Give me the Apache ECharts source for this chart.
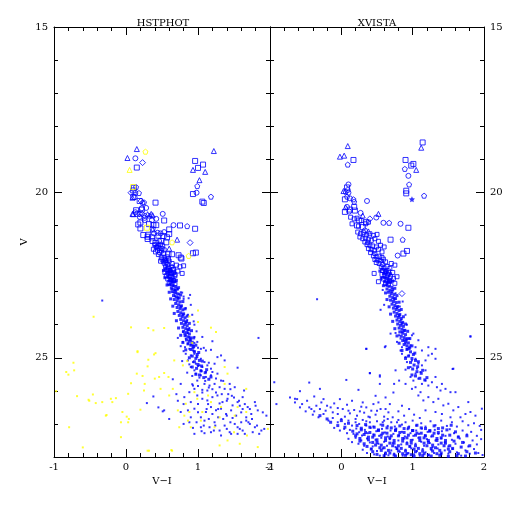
<!DOCTYPE html>
<html><head><meta charset="utf-8">
<script src="https://cdn.jsdelivr.net/npm/echarts@6/dist/echarts.min.js"></script>
<style>html,body{margin:0;padding:0;background:#fff}#c{width:512px;height:512px}</style>
</head><body><div id="c"></div>
<script>
// ---------- axis settings (data units) ----------
const X_RANGE = [-1, 2];
const Y_RANGE = [15, 28];
const PANEL_TITLES = ['HSTPHOT', 'XVISTA'];
const X_NAME = 'V\u2212I';
const Y_NAME = 'V';

// ---------- LEFT panel (HSTPHOT): [V-I, V] ----------
const L_TRI = [[0.15,18.69],[0.02,18.96],[1.22,18.75],[0.93,19.32],[1.10,19.38],[1.02,19.63],[0.09,20.16],[0.09,20.65],[0.35,20.65],[0.37,20.69],[0.10,20.66],[0.30,20.66],[0.33,20.70],[0.37,21.12],[0.71,21.43],[0.60,21.70],[0.43,21.62],[0.55,22.05]];
const L_CIRC = [[0.13,18.97],[0.98,20.01],[0.13,20.02],[0.12,20.15],[0.28,20.47],[0.22,20.48],[0.51,20.65],[0.19,20.74],[0.42,20.80],[0.36,20.84],[0.26,20.84],[0.66,20.99],[0.37,21.10],[0.39,21.24],[0.44,21.22],[0.48,21.24],[0.53,21.20],[0.13,20.60],[0.26,20.77],[0.46,21.47]];
const L_SQ = [[0.15,19.25],[0.96,19.05],[1.07,19.16],[1.00,19.26],[0.93,20.05],[1.06,20.28],[1.08,20.32],[0.11,19.86],[0.10,19.94],[0.10,20.14],[0.41,20.31],[0.22,20.52],[0.14,20.54],[0.16,20.65],[0.53,20.85],[0.20,20.91],[0.17,20.97],[0.20,21.09],[0.75,21.00],[0.96,21.10],[0.24,21.29],[0.30,21.34],[0.30,21.41],[0.31,21.28],[0.36,21.36],[0.45,21.31],[0.52,21.32],[0.57,21.36],[0.60,21.26],[0.37,21.47],[0.41,21.53],[0.49,21.47],[0.56,21.51],[0.59,21.87],[0.64,21.87],[0.73,21.90],[0.76,21.97],[0.93,21.84],[0.97,21.82],[0.77,22.00],[0.32,20.96],[0.38,20.99],[0.42,20.99],[0.60,21.12],[0.19,20.26]];
const L_PENT = [[0.99,19.81],[1.18,20.13],[0.14,19.84],[0.18,20.02],[0.23,20.31],[0.25,20.30],[0.85,21.02]];
const L_DIAM = [[0.23,19.10],[0.07,20.01],[0.21,20.26],[0.19,20.65],[0.22,20.65],[0.26,20.71],[0.89,21.52]];
const L_YEL_PENT = [[0.27,18.77],[0.64,21.51],[0.87,21.92]];
const L_YEL_TRI = [[0.05,19.32]];
const L_YEL_SQ = [[0.10,19.84],[0.29,21.07]];
const L_MID = [[0.40,21.58],[0.44,21.60],[0.48,21.57],[0.51,21.62],[0.42,21.66],[0.46,21.68],[0.50,21.70],[0.38,21.72],[0.44,21.75],[0.49,21.77],[0.53,21.74],[0.41,21.80],[0.47,21.82],[0.52,21.84],[0.45,21.88],
 [0.49,21.96],[0.53,21.98],[0.57,21.95],[0.50,22.02],[0.55,22.04],[0.59,22.01],[0.48,22.08],[0.52,22.10],[0.56,22.12],[0.60,22.08],[0.54,22.16],[0.58,22.18],
 [0.64,22.15],[0.70,22.20],[0.75,22.25],[0.80,22.22],[0.66,22.32],[0.72,22.38],[0.78,22.45],[0.68,22.48],
 [0.55,22.26],[0.59,22.28],[0.63,22.25],[0.57,22.34],[0.61,22.36],[0.65,22.33],[0.54,22.42],[0.58,22.44],[0.62,22.46],[0.66,22.42],[0.56,22.52],[0.60,22.54],[0.64,22.56],[0.68,22.52],[0.58,22.62],[0.62,22.64],[0.66,22.66],[0.60,22.72],[0.64,22.74],[0.68,22.76]];
const L_RIDGE = [[0.55,22.30],[0.60,22.33],[0.63,22.38],[0.57,22.42],[0.61,22.47],[0.65,22.50],[0.58,22.55],[0.62,22.60],[0.66,22.63],[0.60,22.68],[0.64,22.72],[0.68,22.70],[0.61,22.78],[0.65,22.82],[0.69,22.85],[0.63,22.90],[0.67,22.94],[0.71,22.92],[0.64,23.00],[0.68,23.04],[0.72,23.07],[0.66,23.12],[0.70,23.16],[0.74,23.19],[0.67,23.24],[0.71,23.28],[0.75,23.31],[0.69,23.36],[0.73,23.40],[0.77,23.43],[0.71,23.48],[0.75,23.52],[0.79,23.55],[0.72,23.60],[0.76,23.64],[0.80,23.67],[0.74,23.72],[0.78,23.76],[0.82,23.79],[0.76,23.84],[0.80,23.88],[0.84,23.91],[0.77,23.96],[0.81,24.00],[0.85,24.03],[0.79,24.08],[0.83,24.12],[0.87,24.15],[0.80,24.20],[0.84,24.24],[0.88,24.28],[0.82,24.33],[0.86,24.37],[0.90,24.40],[0.84,24.46],[0.88,24.50],[0.92,24.53],[0.86,24.58],[0.90,24.62],[0.94,24.66],
 [0.90,24.75],[0.95,24.82],[0.99,24.90],[0.92,24.95],[0.97,25.02],[1.02,25.08],[0.95,25.12],[1.00,25.20],[1.05,25.25],[0.98,25.32],[1.04,25.40],[1.10,25.45],[1.02,25.52],[1.08,25.60],[1.15,25.65],
 [0.52,22.36],[0.67,22.44],[0.54,22.58],[0.70,22.66],[0.57,22.80],[0.73,22.88],[0.60,23.02],[0.76,23.10],[0.62,23.22],[0.79,23.30],[0.65,23.44],[0.82,23.52],[0.67,23.66],[0.85,23.74],[0.70,23.88],[0.88,23.96],[0.73,24.10],[0.91,24.18],[0.76,24.32],[0.94,24.40],[0.79,24.54],[0.97,24.62],[0.83,24.76],[1.01,24.84],[0.88,25.00],[1.06,25.10],[0.92,25.28],[1.12,25.36],[0.97,25.50],[1.18,25.58],[0.60,22.40],[0.64,22.66],[0.69,22.98],[0.72,23.20],[0.76,23.46],[0.79,23.70],[0.83,23.94],[0.86,24.16],[0.89,24.44],[0.93,24.70]];
const L_DOTS = [[0.62,22.82],[0.66,22.84],[0.59,22.80],[0.64,22.92],[0.68,22.95],[0.72,22.93],[0.66,23.02],[0.70,23.05],[0.74,23.08],[0.78,23.03],[0.68,23.14],[0.72,23.18],[0.80,23.15],
 [0.76,23.02],[0.80,23.22],[0.83,23.50],[0.86,23.70],[0.85,23.86],[0.88,24.10],[0.90,23.40],[0.92,23.70],[0.95,24.00],[0.87,23.20],[0.89,23.10],[0.94,23.90],
 [0.79,24.22],[0.81,24.27],[0.83,24.32],[0.86,24.25],[0.88,24.37],[0.83,24.42],[0.90,24.47],[0.79,24.52],[0.86,24.57],[0.93,24.62],[0.95,24.37],[1.06,24.37],[0.99,24.52],[1.04,24.73],[0.82,24.68],[0.88,24.73],[0.93,24.78],[0.95,24.80],[1.11,24.78],[1.18,24.76],[0.76,24.65],[0.80,24.80],
 [0.83,24.88],[0.90,24.93],[0.95,24.88],[0.99,24.98],[1.04,25.03],[0.86,25.08],[0.93,25.13],[1.09,25.13],[0.97,25.18],[1.02,25.23],[1.06,25.28],[1.13,25.23],[1.18,25.33],[0.90,25.28],[1.23,25.18],[1.27,24.98],[1.32,24.93],[1.37,25.08],[1.20,25.43],[1.11,25.43],[1.04,25.38],[0.95,25.38],[1.55,25.30],
 [0.97,25.48],[1.04,25.53],[1.11,25.58],[1.18,25.53],[1.25,25.63],[1.32,25.69],[0.99,25.69],[1.09,25.79],[1.16,25.84],[1.23,25.79],[1.30,25.89],[1.37,25.94],[1.44,25.79],[1.51,25.89],[1.13,25.99],[0.95,25.94],[1.06,25.97],[1.27,25.48],[0.76,25.79],[0.65,25.65],[0.93,25.84],[0.88,26.04],[1.64,25.99],
 [0.81,26.19],[0.90,26.34],[0.99,26.14],[1.06,26.24],[1.13,26.29],[1.20,26.19],[1.27,26.14],[1.34,26.34],[1.41,26.24],[1.48,26.44],[1.55,26.34],[1.62,26.19],[1.69,26.49],[1.79,26.34],[1.18,26.49],[1.25,26.59],[1.32,26.54],[1.39,26.70],[1.46,26.59],[1.53,26.75],[1.60,26.65],[1.67,26.80],[1.74,26.70],[1.83,26.59],[1.11,26.64],[1.04,26.80],[0.95,26.54],[0.86,26.59],[0.76,26.64],[0.51,26.62],[0.29,26.37],[0.53,26.59],[0.38,26.17],[1.95,26.75],
 [1.09,26.90],[1.16,27.10],[1.23,26.95],[1.30,27.20],[1.37,27.05],[1.44,27.25],[1.51,27.00],[1.58,27.15],[1.65,27.30],[1.72,27.00],[1.79,27.10],[1.18,27.25],[1.32,27.35],[1.46,27.30],[1.55,27.30],[1.09,27.28],[1.04,27.10],[0.93,27.12],[1.67,26.90],[1.88,27.20],
 [0.72,26.30],[0.60,26.85],[0.80,27.00],[1.00,26.40],[1.20,26.70],[1.35,26.85],[1.45,26.95],[1.55,27.10],[1.62,26.55],[1.70,26.95],[1.76,27.25],[1.85,27.30],[1.24,27.05],[1.08,27.05],[0.98,26.95],[1.14,26.40],[1.30,26.38],[1.42,26.10],[1.50,26.20],[1.58,26.45],[1.20,25.95],[1.10,25.70],[1.02,25.60],[0.92,25.55],[0.88,25.20],[0.98,24.95],[1.08,24.70],[1.00,24.70],[0.90,24.60],[0.45,26.50],[1.84,24.40],[-0.33,23.27],
 [0.85,25.45],[0.92,25.80],[1.00,25.85],[1.06,26.05],[1.15,25.90],[1.25,26.05],[1.33,26.10],[1.40,26.30],[1.47,26.15],[1.57,26.30],[1.65,26.40],[1.72,26.55],[1.80,26.45],[1.90,26.65],[1.28,26.55],[1.12,26.55],[1.00,26.65],[0.90,26.80],[1.15,26.85],[1.28,26.80],[1.40,26.75],[1.48,26.82],[1.60,26.95],[1.75,26.85],[1.82,27.05],[1.92,27.15],[1.62,27.20],[1.40,27.15],[1.22,27.20],[1.05,27.22],[0.95,27.30],[0.88,26.95],[0.80,26.40],[0.70,26.10],[1.35,25.70],[1.45,25.95],[1.05,25.40],[1.15,25.15],[1.00,25.25],[0.78,25.10],[0.95,24.55],[0.72,24.40],[0.98,24.20],[1.20,24.50]];
const L_YELLOW = [[-0.73,25.15],[-0.83,25.43],[-0.72,25.38],[-0.97,26.01],[-0.79,27.10],[-0.52,26.27],[-0.42,26.37],[-0.28,26.75],[-0.33,26.34],[-0.21,26.24],[-0.19,26.34],[-0.14,26.22],[-0.07,26.95],[-0.05,26.64],[0.04,26.85],[0.03,26.09],[0.07,25.77],[0.15,25.48],[0.16,24.83],[0.20,26.57],[0.23,25.55],[0.25,25.99],[0.26,25.79],[0.30,25.26],[0.31,25.06],[0.39,24.90],[0.41,24.86],[0.40,25.63],[0.46,25.58],[0.48,25.94],[0.53,25.46],[0.59,25.58],[0.60,26.14],[0.65,25.94],[0.67,25.08],[0.72,26.59],[0.74,27.10],[0.79,25.23],[0.81,26.75],[0.83,26.39],[0.86,26.90],[0.88,26.64],[0.90,27.10],[0.95,26.04],[0.99,26.24],[1.04,26.90],[1.06,26.64],[1.14,26.14],[1.18,26.34],[1.23,27.10],[1.30,26.80],[1.32,26.49],[1.37,25.28],[1.41,27.50],[1.51,26.75],[1.55,26.49],[1.67,26.64],[1.58,27.60],[1.83,27.70],[1.97,27.15],[-0.07,27.40],[-0.60,27.71],[0.32,27.81],[0.63,27.79],[1.25,24.22],[1.37,25.79],[1.41,25.48],[1.67,25.94],
 [-0.45,23.76],[0.07,24.08],[0.38,24.17],[0.16,24.80],[1.00,23.57],[1.00,23.92],[1.18,24.09],[0.31,24.10],[0.53,24.10],[-0.80,25.51],[-0.68,26.16],[-0.51,26.30],[-0.46,26.11],[-0.27,26.73],[0.01,26.78],[0.03,26.95],[0.30,27.81],[0.64,27.81],[0.88,23.75],[0.92,24.55],[0.85,25.10],[1.68,27.35],[1.30,27.65],[1.50,27.25]];

// ---------- RIGHT panel (XVISTA): [V-I, V] ----------
const R_TRI = [[0.09,18.60],[-0.02,18.92],[0.04,18.89],[1.12,18.65],[1.05,19.32],[0.03,19.96],[0.52,20.65],[0.06,20.45],[0.30,20.70],[0.38,21.18]];
const R_SQ = [[0.17,19.02],[1.14,18.49],[0.90,19.02],[1.01,19.14],[0.98,19.19],[0.91,19.95],[0.91,20.03],[0.05,20.21],[0.08,19.85],[0.12,20.52],[0.05,20.59],[0.19,20.55],[0.94,21.07],[0.69,21.43],[0.92,21.77],[0.87,21.85],[0.18,20.44],[0.25,20.85],[0.22,21.00],[0.30,21.05],[0.35,20.90]];
const R_CIRC = [[0.94,19.50],[0.36,20.26],[0.10,19.76],[0.09,19.93],[0.10,20.01],[0.12,20.18],[0.08,20.44],[0.11,20.58],[0.49,20.76],[0.59,20.92],[0.83,20.95],[0.79,21.91],[0.27,20.62],[0.33,21.15]];
const R_PENT = [[0.09,19.16],[0.89,19.29],[0.95,19.76],[1.16,20.10],[0.06,19.98],[0.17,20.21],[0.67,20.92],[0.86,21.43],[0.18,20.28],[0.08,20.13]];
const R_STAR = [[0.99,20.21]];
const R_DIAM = [[0.85,23.06],[0.40,20.80]];
const R_MID = [[0.13,20.75],[0.18,20.80],[0.22,20.78],[0.28,20.85],[0.34,20.95],[0.15,20.95],[0.24,21.02],[0.38,20.90],
 [0.23,21.20],[0.27,21.25],[0.31,21.22],[0.35,21.28],[0.40,21.25],[0.45,21.30],[0.50,21.27],[0.26,21.35],[0.30,21.40],[0.34,21.38],[0.38,21.42],[0.42,21.45],[0.47,21.40],[0.52,21.48],[0.33,21.50],[0.37,21.52],
 [0.36,21.58],[0.40,21.60],[0.44,21.62],[0.49,21.65],[0.55,21.60],[0.60,21.65],[0.38,21.70],[0.42,21.73],[0.46,21.76],[0.52,21.72],[0.41,21.82],[0.47,21.85],[0.57,21.80],
 [0.45,21.92],[0.49,21.95],[0.53,21.93],[0.57,21.97],[0.47,22.03],[0.51,22.05],[0.55,22.07],[0.59,22.02],[0.49,22.12],[0.53,22.15],[0.58,22.18],[0.62,22.10],[0.70,22.15],[0.75,22.20],
 [0.56,22.25],[0.60,22.28],[0.64,22.24],[0.68,22.30],[0.58,22.36],[0.62,22.40],[0.66,22.38],[0.72,22.42],[0.57,22.48],[0.61,22.52],[0.65,22.50],[0.69,22.55],[0.59,22.62],[0.63,22.65],[0.67,22.68],[0.73,22.60],[0.62,22.75],[0.66,22.78],[0.75,22.75],[0.78,22.55],[0.46,22.45],[0.52,22.70]];
const R_RIDGE = [[0.57,22.32],[0.61,22.35],[0.65,22.40],[0.59,22.45],[0.63,22.49],[0.67,22.52],[0.60,22.57],[0.64,22.61],[0.68,22.65],[0.61,22.70],[0.65,22.74],[0.69,22.72],[0.63,22.80],[0.67,22.84],[0.71,22.87],[0.64,22.92],[0.68,22.96],[0.72,22.94],[0.66,23.02],[0.70,23.06],[0.74,23.09],[0.68,23.14],[0.72,23.18],[0.76,23.21],[0.69,23.26],[0.73,23.30],[0.77,23.33],[0.71,23.38],[0.75,23.42],[0.79,23.45],[0.73,23.50],[0.77,23.54],[0.81,23.57],[0.74,23.62],[0.78,23.66],[0.82,23.69],[0.76,23.74],[0.80,23.78],[0.84,23.81],[0.78,23.86],[0.82,23.90],[0.86,23.93],[0.79,23.98],[0.83,24.02],[0.87,24.05],[0.81,24.10],[0.85,24.14],[0.89,24.17],[0.82,24.22],[0.86,24.26],[0.90,24.30],[0.84,24.35],[0.88,24.39],[0.92,24.42],[0.86,24.48],[0.90,24.52],[0.94,24.55],[0.88,24.60],[0.92,24.64],[0.96,24.68],
 [0.92,24.75],[0.97,24.82],[1.01,24.90],[0.94,24.95],[0.99,25.02],[1.04,25.08],[0.97,25.14],[1.02,25.22],[1.07,25.27],[1.00,25.34],[1.06,25.42],[1.12,25.47],[1.04,25.55],[1.10,25.62],[1.17,25.67],
 [0.54,22.38],[0.69,22.46],[0.56,22.60],[0.72,22.68],[0.59,22.82],[0.75,22.90],[0.62,23.04],[0.78,23.12],[0.64,23.24],[0.81,23.32],[0.67,23.46],[0.84,23.54],[0.69,23.68],[0.87,23.76],[0.72,23.90],[0.90,23.98],[0.75,24.12],[0.93,24.20],[0.78,24.34],[0.96,24.42],[0.81,24.56],[0.99,24.64],[0.85,24.78],[1.03,24.86],[0.90,25.02],[1.08,25.12],[0.94,25.30],[1.14,25.38],[0.99,25.52],[1.20,25.60],[0.62,22.42],[0.66,22.68],[0.71,23.00],[0.74,23.22],[0.78,23.48],[0.81,23.72],[0.85,23.96],[0.88,24.18],[0.91,24.46],[0.95,24.72]];
const R_DOTS = [[0.58,22.95],[0.55,23.55],[0.76,23.05],[0.86,23.30],[0.60,23.40],[0.90,23.70],[0.92,24.00],[0.82,23.45],[0.84,23.85],
 [0.69,24.27],[0.76,24.25],[0.81,24.32],[0.85,24.22],[0.83,24.42],[0.88,24.47],[0.78,24.52],[0.90,24.57],[0.95,24.42],[0.99,24.32],[0.85,24.68],[0.92,24.73],[0.97,24.62],[1.04,24.68],[0.83,24.78],[1.01,24.27],[1.08,24.47],[1.13,24.78],[1.22,24.68],[1.32,24.73],[0.62,24.65],[0.35,24.73],[1.81,24.35],
 [0.85,24.88],[0.90,24.98],[0.95,24.93],[0.99,25.08],[1.04,25.03],[1.08,25.18],[0.92,25.13],[0.97,25.28],[1.06,25.33],[1.13,25.23],[1.18,25.08],[1.22,24.93],[1.27,24.88],[1.32,25.03],[1.18,25.38],[1.11,25.43],[1.04,25.48],[0.76,25.38],[1.57,25.33],[0.54,25.53],[0.40,25.46],[0.90,25.36],
 [0.97,25.58],[1.01,25.69],[1.08,25.63],[1.13,25.79],[1.18,25.69],[1.22,25.84],[1.27,25.74],[1.34,25.89],[1.39,25.99],[1.46,25.94],[1.53,26.04],[1.60,26.04],[1.04,25.89],[1.11,26.04],[0.99,25.94],[1.32,25.58],[1.41,25.79],[0.90,25.79],[0.81,25.69],[0.74,25.79],
 [1.08,26.14],[1.15,26.29],[1.22,26.19],[1.29,26.34],[1.36,26.24],[1.43,26.44],[1.50,26.39],[1.57,26.59],[1.64,26.49],[1.74,26.70],[1.78,26.34],[1.88,26.75],[1.97,26.54],[1.18,26.59],[1.32,26.64],[1.41,26.70],[1.53,26.80],[1.67,26.80],[1.81,26.64],
 [-0.34,23.23],[-0.94,25.74],[-0.91,26.40],[-0.65,26.24],[-0.58,26.01],[-0.45,25.75],[-0.30,25.94],[-0.38,26.17],[0.07,25.67],[0.24,25.97],[0.35,24.73],[0.40,25.47],[0.54,25.57],[0.54,25.79],[0.61,24.68],[1.56,25.34],[1.81,24.36],[0.73,26.05],[0.62,26.20],[0.48,26.15],
 [-0.45,26.50],[-0.38,26.62],[-0.30,26.55],[-0.20,26.45],[-0.12,26.65],[-0.05,26.52],[0.05,26.78],[0.10,26.60],[0.20,26.85],[0.26,26.62],[0.35,26.92],[0.40,26.80],[0.50,26.60],[0.58,26.95],[0.65,26.85],[0.78,26.95],[-0.58,26.50],[-0.65,26.35],[-0.72,26.20],[-0.25,26.25],[0.35,26.50],[0.52,26.35],[0.62,26.55]];
const R_BAND = [[-0.62,26.25],[-0.55,26.40],[-0.48,26.30],[-0.42,26.55],[-0.35,26.45],[-0.28,26.35],[-0.22,26.60],[-0.15,26.50],[-0.10,26.38],[-0.05,26.70],[0.02,26.55],[0.08,26.42],[0.12,26.68],[0.18,26.58],[0.22,26.75],[0.28,26.48],[0.32,26.66],[0.38,26.78],[0.42,26.60],[0.48,26.72],[0.55,26.55],[0.60,26.78],[0.66,26.65],[0.72,26.80],[0.80,26.62],[0.88,26.75],[0.95,26.55],[1.02,26.72],[1.10,26.82],[0.30,26.35],[0.15,26.30],[-0.02,26.25],[0.45,26.40],[0.85,26.45],[0.68,26.40],
 [-0.50,26.62],[-0.40,26.72],[-0.32,26.80],[-0.25,26.70],[-0.18,26.90],[-0.12,26.82],[-0.05,26.95],[0.00,26.85],[0.05,27.00],[0.10,26.90],[0.15,27.05],[0.20,26.95],[0.25,27.00],[0.30,26.88],[0.35,27.05],[0.40,26.95],[0.45,27.08],[0.50,26.92],[0.55,27.02],[0.60,26.90],[0.65,27.06],[0.70,26.95],[0.75,27.08],[0.80,26.88],[0.85,27.02],[0.90,26.95],[0.95,27.08],[1.00,26.90],[1.05,27.05],[1.12,26.98],[1.18,27.08],[1.25,26.92],[1.32,27.04],[1.40,26.90],[1.48,27.06],[1.55,26.95],[1.62,27.08],[1.70,26.92],[1.78,27.04],[1.86,26.98],[1.94,27.06],
 [-0.10,27.12],[-0.02,27.20],[0.04,27.15],[0.08,27.28],[0.12,27.18],[0.17,27.30],[0.21,27.14],[0.25,27.25],[0.29,27.35],[0.33,27.18],[0.37,27.28],[0.41,27.12],[0.45,27.32],[0.49,27.22],[0.53,27.36],[0.57,27.15],[0.61,27.26],[0.65,27.38],[0.69,27.20],[0.73,27.30],[0.77,27.14],[0.81,27.34],[0.85,27.24],[0.89,27.38],[0.93,27.16],[0.97,27.28],[1.01,27.36],[1.05,27.20],[1.09,27.30],[1.13,27.14],[1.17,27.34],[1.21,27.24],[1.26,27.38],[1.31,27.18],[1.36,27.30],[1.41,27.22],[1.46,27.36],[1.52,27.16],[1.58,27.28],[1.64,27.38],[1.70,27.20],[1.76,27.32],[1.82,27.24],[1.90,27.36],[1.96,27.18],
 [0.10,27.45],[0.15,27.55],[0.20,27.42],[0.24,27.60],[0.28,27.50],[0.32,27.66],[0.36,27.44],[0.40,27.56],[0.44,27.68],[0.48,27.48],[0.52,27.60],[0.56,27.42],[0.60,27.54],[0.64,27.66],[0.68,27.46],[0.72,27.58],[0.76,27.70],[0.80,27.50],[0.84,27.62],[0.88,27.44],[0.92,27.56],[0.96,27.68],[1.00,27.48],[1.04,27.60],[1.08,27.42],[1.12,27.54],[1.16,27.66],[1.20,27.46],[1.24,27.58],[1.28,27.70],[1.32,27.50],[1.36,27.62],[1.40,27.44],[1.45,27.56],[1.50,27.68],[1.55,27.48],[1.60,27.60],[1.66,27.44],[1.72,27.56],[1.78,27.68],[1.84,27.50],[1.90,27.62],[1.96,27.46],
 [0.30,27.78],[0.36,27.88],[0.42,27.75],[0.46,27.92],[0.50,27.82],[0.54,27.96],[0.58,27.74],[0.62,27.86],[0.66,27.95],[0.70,27.80],[0.74,27.90],[0.78,27.76],[0.82,27.84],[0.86,27.96],[0.90,27.78],[0.94,27.88],[0.98,27.74],[1.02,27.92],[1.06,27.82],[1.10,27.96],[1.14,27.76],[1.18,27.86],[1.22,27.94],[1.26,27.78],[1.30,27.88],[1.35,27.74],[1.40,27.92],[1.45,27.80],[1.50,27.90],[1.56,27.76],[1.62,27.86],[1.68,27.96],[1.74,27.80],[1.80,27.90],[1.86,27.76],[1.92,27.88],[1.98,27.94]];
const R_CORE = [[0.22,27.05],[0.34,27.02],[0.46,27.10],[0.58,27.04],[0.70,27.12],[0.82,27.06],[0.94,27.12],[1.06,27.04],[1.18,27.14],[1.30,27.06],[1.42,27.12],[1.54,27.04],
 [0.16,27.22],[0.28,27.18],[0.40,27.26],[0.52,27.20],[0.64,27.28],[0.76,27.18],[0.88,27.26],[1.00,27.20],[1.12,27.28],[1.24,27.20],[1.36,27.26],[1.48,27.18],[1.60,27.24],
 [0.20,27.36],[0.32,27.32],[0.44,27.40],[0.56,27.34],[0.68,27.42],[0.80,27.36],[0.92,27.42],[1.04,27.34],[1.16,27.42],[1.28,27.36],[1.40,27.42],[1.52,27.34],[1.64,27.40],[1.76,27.36],
 [0.26,27.52],[0.38,27.48],[0.50,27.56],[0.62,27.50],[0.74,27.58],[0.86,27.52],[0.98,27.58],[1.10,27.50],[1.22,27.56],[1.34,27.50],[1.46,27.58],[1.58,27.52],[1.70,27.56],
 [0.36,27.68],[0.48,27.64],[0.60,27.72],[0.72,27.66],[0.84,27.74],[0.96,27.68],[1.08,27.74],[1.20,27.66],[1.32,27.72],[1.44,27.66],[1.56,27.74],[1.68,27.70],[1.80,27.66],
 [0.44,27.84],[0.56,27.80],[0.68,27.88],[0.80,27.82],[0.92,27.90],[1.04,27.84],[1.16,27.90],[1.28,27.82],[1.40,27.88],[1.52,27.84],[1.64,27.90],[1.76,27.84],[1.88,27.88],
 [0.60,27.96],[0.76,27.97],[0.90,27.95],[1.02,27.98],[1.14,27.96],[1.26,27.97],[1.38,27.95],[1.50,27.98],[1.62,27.96],[1.74,27.97],
 [-0.15,26.95],[-0.05,27.05],[0.05,27.10],[0.10,26.98],[-0.30,26.75],[-0.20,26.85],[0.00,26.90],
 [0.28,27.13],[0.40,27.10],[0.52,27.18],[0.64,27.12],[0.76,27.20],[0.88,27.14],[1.00,27.20],[1.12,27.12],[1.24,27.22],[1.36,27.14],
 [0.22,27.30],[0.34,27.26],[0.46,27.34],[0.58,27.28],[0.70,27.36],[0.82,27.26],[0.94,27.34],[1.06,27.28],[1.18,27.36],[1.30,27.28],[1.42,27.34],
 [0.26,27.44],[0.38,27.40],[0.50,27.48],[0.62,27.42],[0.74,27.50],[0.86,27.44],[0.98,27.50],[1.10,27.42],[1.22,27.50],[1.34,27.44],[1.46,27.50],
 [0.32,27.60],[0.44,27.56],[0.56,27.64],[0.68,27.58],[0.80,27.66],[0.92,27.60],[1.04,27.66],[1.16,27.58],[1.28,27.64],[1.40,27.58],[1.52,27.66],
 [0.42,27.76],[0.54,27.72],[0.66,27.80],[0.78,27.74],[0.90,27.82],[1.02,27.76],[1.14,27.82],[1.26,27.74],[1.38,27.80],[1.50,27.76],
 [0.50,27.92],[0.62,27.90],[0.74,27.94],[0.86,27.90],[0.98,27.93],[1.10,27.90],[1.22,27.94],[1.34,27.90]];

// ---------- chart ----------
const BLUE = '#0000ff', YEL = '#ffff00', FONT = 'DejaVu Serif';
const PENT = 'path://M0,-10L9.5,-3.1L5.9,8.1L-5.9,8.1L-9.5,-3.1Z';
const STAR = 'path://M0,-10L2.9,-4L9.5,-3.1L4.7,1.5L5.9,8.1L0,5L-5.9,8.1L-4.7,1.5L-9.5,-3.1L-2.9,-4Z';
const chart = echarts.init(document.getElementById('c'), null, {renderer: 'canvas'});
const grids = [{left: 54, top: 27, width: 216, height: 430}, {left: 270, top: 27, width: 214, height: 430}];
const line = {onZero: false, lineStyle: {color: '#000', width: 1}};
const tick = (len) => ({inside: true, length: len, lineStyle: {color: '#000', width: 1}});
const lab = {color: '#000', fontFamily: FONT, fontSize: 10};
const xAxis = [], yAxis = [];
[0, 1].forEach(g => {
  const bx = {gridIndex: g, type: 'value', min: X_RANGE[0], max: X_RANGE[1], splitLine: {show: false}, axisLine: line};
  xAxis.push(Object.assign({}, bx, {position: 'bottom', interval: 1, axisTick: tick(8), axisLabel: Object.assign({margin: 5}, lab),
    name: X_NAME, nameLocation: 'middle', nameGap: 18, nameTextStyle: lab}));
  xAxis.push(Object.assign({}, bx, {position: 'bottom', interval: 0.2, axisLine: {show: false, onZero: false}, axisTick: tick(4), axisLabel: {show: false}}));
  xAxis.push(Object.assign({}, bx, {position: 'top', interval: 1, axisTick: tick(8), axisLabel: {show: false}}));
  xAxis.push(Object.assign({}, bx, {position: 'top', interval: 0.2, axisLine: {show: false, onZero: false}, axisTick: tick(4), axisLabel: {show: false}}));
  const by = {gridIndex: g, type: 'value', inverse: true, min: Y_RANGE[0], max: Y_RANGE[1], splitLine: {show: false}, axisLine: line};
  const fmt = v => (v % 5 === 0 ? String(v) : '');
  yAxis.push(Object.assign({}, by, {position: 'left', interval: 5, axisTick: tick(8),
    axisLabel: g === 0 ? Object.assign({margin: 6, formatter: fmt}, lab) : {show: false},
    name: g === 0 ? Y_NAME : '', nameLocation: 'middle', nameGap: 25, nameTextStyle: lab}));
  yAxis.push(Object.assign({}, by, {position: 'left', interval: 1, axisLine: {show: false, onZero: false}, axisTick: tick(4), axisLabel: {show: false}}));
  yAxis.push(Object.assign({}, by, {position: 'right', interval: 5, axisTick: tick(8),
    axisLabel: g === 1 ? Object.assign({margin: 6, formatter: fmt}, lab) : {show: false}}));
  yAxis.push(Object.assign({}, by, {position: 'right', interval: 1, axisLine: {show: false, onZero: false}, axisTick: tick(4), axisLabel: {show: false}}));
});
function sc(g, data, symbol, size, color, hollow) {
  return {type: 'scatter', xAxisIndex: g * 4, yAxisIndex: g * 4, data: data, symbol: symbol, symbolSize: size,
    silent: true, animation: false, emphasis: {disabled: true},
    itemStyle: hollow ? {color: 'rgba(0,0,0,0)', borderColor: color, borderWidth: 1} : {color: color}};
}
const series = [
  sc(0, L_DOTS, 'rect', 2, BLUE, false),
  sc(0, L_RIDGE, 'rect', 3, BLUE, false),
  sc(0, L_MID, 'rect', 4, BLUE, true),
  sc(0, L_TRI, 'triangle', 5, BLUE, true),
  sc(0, L_CIRC, 'circle', 5, BLUE, true),
  sc(0, L_SQ, 'rect', 5, BLUE, true),
  sc(0, L_PENT, PENT, 5, BLUE, true),
  sc(0, L_DIAM, 'diamond', 6, BLUE, true),
  sc(0, L_YELLOW, 'rect', 2, YEL, false),
  sc(0, L_YEL_PENT, PENT, 5, YEL, true),
  sc(0, L_YEL_TRI, 'triangle', 5, YEL, true),
  sc(0, L_YEL_SQ, 'rect', 5, YEL, true),
  sc(1, R_DOTS, 'rect', 2, BLUE, false),
  sc(1, R_BAND, 'rect', 2, BLUE, false),
  sc(1, R_CORE, 'rect', 3, BLUE, false),
  sc(1, R_RIDGE, 'rect', 3, BLUE, false),
  sc(1, R_MID, 'rect', 4, BLUE, true),
  sc(1, R_TRI, 'triangle', 5, BLUE, true),
  sc(1, R_SQ, 'rect', 5, BLUE, true),
  sc(1, R_CIRC, 'circle', 5, BLUE, true),
  sc(1, R_PENT, PENT, 5, BLUE, true),
  sc(1, R_STAR, STAR, 6, BLUE, false),
  sc(1, R_DIAM, 'diamond', 6, BLUE, true)
];
chart.setOption({
  backgroundColor: '#fff',
  animation: false,
  grid: grids,
  xAxis: xAxis,
  yAxis: yAxis,
  graphic: PANEL_TITLES.map((t, i) => ({type: 'text', x: i === 0 ? 163 : 377, y: 23,
    style: {text: t, fill: '#000', font: '10px "' + FONT + '"', textAlign: 'center', textVerticalAlign: 'middle'}})),
  series: series
});
</script></body></html>
